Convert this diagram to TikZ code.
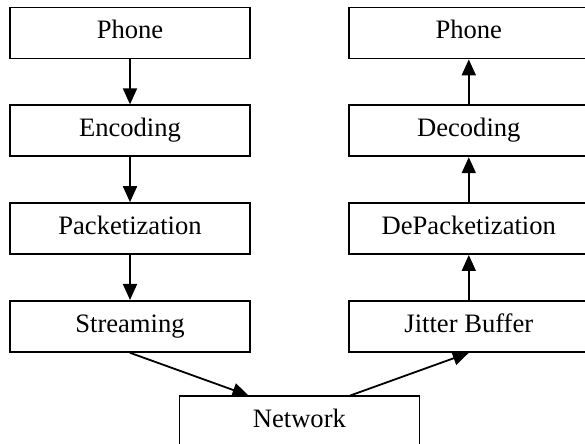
\documentclass[tikz,border=0pt]{standalone}
\usepackage{fontspec}
\setmainfont{Liberation Serif}
\usetikzlibrary{positioning, calc, arrows.meta}

\begin{document}
\begin{tikzpicture}[
        stagebox/.style={draw, line width=0.9pt, minimum width=120pt, minimum height=25.5pt, inner sep=0pt, text height=9pt, text depth=3pt, font=\fontsize{13.3}{16}\selectfont},
        flow/.style={-{Triangle[length=8pt, width=7pt]}, line width=0.9pt}
    ]
        \useasboundingbox (0,0) rectangle (292.5pt,-222pt);

        % --- SENDER SIDE ---
        \node[stagebox] (phoneL) at (65pt,-16.5pt) {Phone};
        \node[stagebox, below=22.5pt of phoneL] (encode) {Encoding};
        \node[stagebox, below=22.5pt of encode] (packet) {Packetization};
        \node[stagebox, below=22.5pt of packet] (stream) {Streaming};

        % --- RECEIVER SIDE ---
        \node[stagebox, right=48.5pt of phoneL] (phoneR) {Phone};
        \node[stagebox, right=48.5pt of encode] (decode) {Decoding};
        \node[stagebox, right=48.5pt of packet] (depacket) {DePacketization};
        \node[stagebox, right=48.5pt of stream] (jitter) {Jitter Buffer};

        % --- NETWORK ---
        \node[stagebox, yshift=-47.75pt] (net) at ($(stream)!0.5!(jitter)$) {Network};
        \coordinate (netin) at ([xshift=35pt]net.north west);
        \coordinate (netout) at ([xshift=-35pt]net.north east);

        % Connections
        \draw[flow] (phoneL) -- (encode);
        \draw[flow] (encode) -- (packet);
        \draw[flow] (packet) -- (stream);
        \draw[flow] (stream.south) -- (netin);
        \draw[flow] (netout) -- (jitter.south);
        \draw[flow] (jitter) -- (depacket);
        \draw[flow] (depacket) -- (decode);
        \draw[flow] (decode) -- (phoneR);
    \end{tikzpicture}
\end{document}
